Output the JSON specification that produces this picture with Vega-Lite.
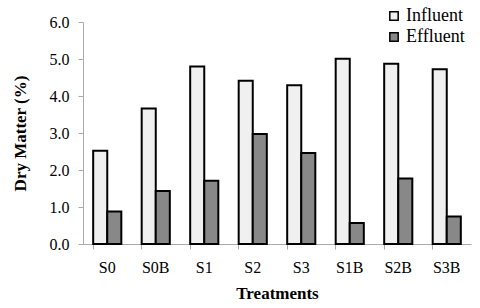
{
  "$schema": "https://vega.github.io/schema/vega-lite/v6.json",
  "width": 388,
  "height": 222,
  "autosize": {"type": "none"},
  "padding": {"left": 83, "top": 22, "right": 9, "bottom": 64},
  "background": "white",
  "config": {
    "font": "Liberation Serif",
    "view": {"stroke": null},
    "axis": {"labelFont": "Liberation Serif", "titleFont": "Liberation Serif"},
    "legend": {"labelFont": "Liberation Serif"}
  },
  "data": {
    "values": [
      {"t": "S0", "s": "Influent", "v": 2.52},
      {"t": "S0", "s": "Effluent", "v": 0.88},
      {"t": "S0B", "s": "Influent", "v": 3.66},
      {"t": "S0B", "s": "Effluent", "v": 1.43},
      {"t": "S1", "s": "Influent", "v": 4.8},
      {"t": "S1", "s": "Effluent", "v": 1.71},
      {"t": "S2", "s": "Influent", "v": 4.41},
      {"t": "S2", "s": "Effluent", "v": 2.97},
      {"t": "S3", "s": "Influent", "v": 4.29},
      {"t": "S3", "s": "Effluent", "v": 2.46},
      {"t": "S1B", "s": "Influent", "v": 5.01},
      {"t": "S1B", "s": "Effluent", "v": 0.57},
      {"t": "S2B", "s": "Influent", "v": 4.87},
      {"t": "S2B", "s": "Effluent", "v": 1.77},
      {"t": "S3B", "s": "Influent", "v": 4.72},
      {"t": "S3B", "s": "Effluent", "v": 0.74}
    ]
  },
  "mark": {"type": "bar", "stroke": "black", "strokeWidth": 2},
  "encoding": {
    "x": {
      "field": "t",
      "type": "nominal",
      "sort": ["S0", "S0B", "S1", "S2", "S3", "S1B", "S2B", "S3B"],
      "scale": {"paddingInner": 0.42, "paddingOuter": 0.21},
      "axis": {
        "title": "Treatments",
        "titleFont": "Liberation Serif",
        "titleFontSize": 17,
        "titleFontWeight": "bold",
        "titleColor": "black",
        "titlePadding": 10,
        "labelAngle": 0,
        "labelFont": "Liberation Serif",
        "labelFontSize": 16,
        "labelColor": "black",
        "labelPadding": 10,
        "bandPosition": 0,
        "domainColor": "#aaa",
        "tickColor": "#aaa",
        "tickSize": 5
      }
    },
    "xOffset": {
      "field": "s",
      "type": "nominal",
      "sort": ["Influent", "Effluent"],
      "scale": {"paddingInner": 0, "paddingOuter": 0}
    },
    "y": {
      "field": "v",
      "type": "quantitative",
      "scale": {"domain": [0, 6], "nice": false},
      "axis": {
        "title": "Dry Matter (%)",
        "titleFont": "Liberation Serif",
        "titleFontSize": 17,
        "titleFontWeight": "bold",
        "titleColor": "black",
        "titlePadding": 20,
        "values": [0, 1, 2, 3, 4, 5, 6],
        "format": ".1f",
        "labelFont": "Liberation Serif",
        "labelFontSize": 16,
        "labelColor": "black",
        "labelPadding": 9,
        "grid": false,
        "domainColor": "#aaa",
        "tickColor": "#aaa",
        "tickSize": 5
      }
    },
    "fill": {
      "field": "s",
      "type": "nominal",
      "sort": ["Influent", "Effluent"],
      "scale": {"domain": ["Influent", "Effluent"], "range": ["#f0f0f0", "#888888"]},
      "legend": {
        "title": null,
        "orient": "none",
        "legendX": 302,
        "legendY": -15,
        "symbolType": "square",
        "symbolSize": 70,
        "symbolStrokeColor": "black",
        "symbolStrokeWidth": 1.5,
        "labelFont": "Liberation Serif",
        "labelFontSize": 18,
        "labelColor": "black",
        "rowPadding": 3,
        "labelOffset": 3
      }
    }
  }
}
